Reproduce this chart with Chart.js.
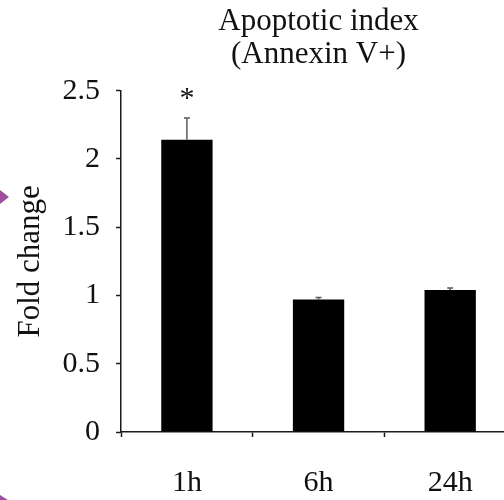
<!DOCTYPE html>
<html>
<head>
<meta charset="utf-8">
<script src="https://cdn.jsdelivr.net/npm/chart.js@4.4.1/dist/chart.umd.min.js"></script>
<style>
  html, body { margin: 0; padding: 0; background: #ffffff; overflow: hidden; }
  #wrap { position: relative; width: 516px; height: 529px; }
</style>
</head>
<body>
<div id="wrap"><canvas id="chart"></canvas></div>
<script>
// Apoptotic index (Annexin V+), fold change by time point
const timePoints = ['1h', '6h', '24h'];
const foldChange = [2.14, 0.97, 1.04];
const errorUp = [0.16, 0.015, 0.015];
const significance = ['*', '', ''];
const yTicks = [0, 0.5, 1, 1.5, 2, 2.5];

const SERIF = "'Liberation Serif', 'Times New Roman', 'DejaVu Serif', serif";
const AXIS = '#1a1a1a';

// Upper error whiskers and significance marks above the bars
const errorBarPlugin = {
  id: 'errorBars',
  afterDatasetsDraw(chart) {
    const ctx = chart.ctx;
    const y = chart.scales.y;
    const meta = chart.getDatasetMeta(0);
    ctx.save();
    meta.data.forEach((bar, i) => {
      const top = y.getPixelForValue(foldChange[i]);
      const tip = y.getPixelForValue(foldChange[i] + errorUp[i]);
      ctx.strokeStyle = '#5a5a5a';
      ctx.lineWidth = 1.5;
      ctx.beginPath();
      ctx.moveTo(bar.x, top);
      ctx.lineTo(bar.x, tip);
      ctx.moveTo(bar.x - 3, tip);
      ctx.lineTo(bar.x + 3, tip);
      ctx.stroke();
      if (significance[i]) {
        ctx.fillStyle = '#111';
        ctx.font = '30px ' + SERIF;
        ctx.textAlign = 'center';
        ctx.textBaseline = 'alphabetic';
        ctx.fillText(significance[i], bar.x, tip - 11);
      }
    });
    ctx.restore();
  }
};

// Small purple pointers along the left margin
const pointerPlugin = {
  id: 'pointers',
  afterDraw(chart) {
    const ctx = chart.ctx;
    ctx.save();
    ctx.fillStyle = '#a24c9f';
    ctx.beginPath();
    ctx.moveTo(0, 190);
    ctx.lineTo(9, 197);
    ctx.lineTo(0, 204);
    ctx.closePath();
    ctx.fill();
    ctx.beginPath();
    ctx.moveTo(0, 495);
    ctx.lineTo(11, 502);
    ctx.lineTo(0, 509);
    ctx.closePath();
    ctx.fill();
    ctx.restore();
  }
};

new Chart(document.getElementById('chart'), {
  type: 'bar',
  data: {
    labels: timePoints,
    datasets: [{
      data: foldChange,
      backgroundColor: '#000000',
      borderWidth: 0,
      barPercentage: 0.39,
      categoryPercentage: 1.0
    }]
  },
  options: {
    responsive: true,
    maintainAspectRatio: false,
    animation: false,
    devicePixelRatio: 1,
    layout: { padding: { left: 0, right: 0, top: 0, bottom: 0 } },
    plugins: {
      legend: { display: false },
      tooltip: { enabled: false },
      title: {
        display: true,
        fullSize: false,
        text: ['Apoptotic index', '(Annexin V+)'],
        color: '#111',
        font: { family: SERIF, size: 31, weight: 'normal', lineHeight: 1.075 },
        padding: { top: 5, bottom: 19 }
      }
    },
    scales: {
      x: {
        offset: true,
        grid: {
          offset: true,
          drawOnChartArea: false,
          drawTicks: true,
          tickLength: 5,
          tickWidth: 1.5,
          tickColor: AXIS
        },
        border: { display: true, color: AXIS, width: 1.5 },
        ticks: {
          color: '#111',
          padding: 28,
          font: { family: SERIF, size: 30, lineHeight: 1.2 }
        }
      },
      y: {
        min: 0,
        max: 2.5,
        afterBuildTicks(scale) {
          scale.ticks = yTicks.map(v => ({ value: v }));
        },
        grid: {
          drawOnChartArea: false,
          drawTicks: true,
          tickLength: 5,
          tickWidth: 1.5,
          tickColor: AXIS
        },
        border: { display: true, color: AXIS, width: 1.5 },
        ticks: {
          color: '#111',
          padding: 16,
          font: { family: SERIF, size: 30, lineHeight: 1.2 },
          callback: v => String(v)
        },
        title: {
          display: true,
          text: 'Fold change',
          color: '#111',
          font: { family: SERIF, size: 31, lineHeight: 0.6 },
          padding: { top: 22, bottom: 6 }
        }
      }
    }
  },
  plugins: [errorBarPlugin, pointerPlugin]
});
</script>
</body>
</html>
